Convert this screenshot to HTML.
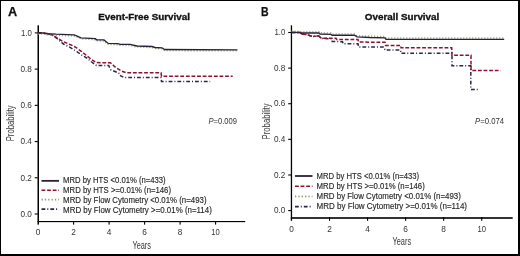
<!DOCTYPE html>
<html><head><meta charset="utf-8"><style>
html,body{margin:0;padding:0;background:#fff;overflow:hidden;width:520px;height:256px;}
svg{display:block;will-change:transform;}
text{font-family:"Liberation Sans", sans-serif;}
</style></head><body>
<svg width="520" height="256" viewBox="0 0 520 256" font-family='"Liberation Sans", sans-serif'>
<rect x="0" y="0" width="520" height="256" fill="#fff"/>
<rect x="0" y="0" width="520" height="1" fill="#000"/>
<rect x="0" y="0" width="1" height="256" fill="#000"/>
<rect x="518" y="0" width="2" height="256" fill="#000"/>
<rect x="0" y="254" width="520" height="2" fill="#000"/>
<text x="7.9" y="16.0" font-size="12" fill="#111" textLength="9.2" lengthAdjust="spacingAndGlyphs" font-weight="bold" stroke="#111" stroke-width="0.25">A</text>
<text x="98.3" y="20.3" font-size="9.9" fill="#111" textLength="91.6" lengthAdjust="spacingAndGlyphs" font-weight="bold" stroke="#111" stroke-width="0.35">Event-Free Survival</text>
<rect x="37.5" y="25.3" width="1.5" height="199.30" fill="#000"/>
<rect x="37.5" y="221.0" width="207.70" height="1.15" fill="#000"/>
<rect x="34.800000000000004" y="32.35" width="3" height="1.1" fill="#000"/>
<text x="31.90" y="35.65" font-size="8.5" fill="#333" text-anchor="end" textLength="10.9" lengthAdjust="spacingAndGlyphs">1.0</text>
<rect x="34.800000000000004" y="68.57" width="3" height="1.1" fill="#000"/>
<text x="31.90" y="71.87" font-size="8.5" fill="#333" text-anchor="end" textLength="11.4" lengthAdjust="spacingAndGlyphs">0.8</text>
<rect x="34.800000000000004" y="104.79" width="3" height="1.1" fill="#000"/>
<text x="31.90" y="108.09" font-size="8.5" fill="#333" text-anchor="end" textLength="11.4" lengthAdjust="spacingAndGlyphs">0.6</text>
<rect x="34.800000000000004" y="141.01" width="3" height="1.1" fill="#000"/>
<text x="31.90" y="144.31" font-size="8.5" fill="#333" text-anchor="end" textLength="11.4" lengthAdjust="spacingAndGlyphs">0.4</text>
<rect x="34.800000000000004" y="177.23" width="3" height="1.1" fill="#000"/>
<text x="31.90" y="180.53" font-size="8.5" fill="#333" text-anchor="end" textLength="11.4" lengthAdjust="spacingAndGlyphs">0.2</text>
<rect x="34.800000000000004" y="213.45" width="3" height="1.1" fill="#000"/>
<text x="31.90" y="216.75" font-size="8.5" fill="#333" text-anchor="end" textLength="11.4" lengthAdjust="spacingAndGlyphs">0.0</text>
<text x="38.10" y="235.30" font-size="8.3" fill="#333" text-anchor="middle">0</text>
<rect x="73.05" y="221.0" width="1.1" height="3.6" fill="#000"/>
<text x="73.60" y="235.30" font-size="8.3" fill="#333" text-anchor="middle">2</text>
<rect x="108.55" y="221.0" width="1.1" height="3.6" fill="#000"/>
<text x="109.10" y="235.30" font-size="8.3" fill="#333" text-anchor="middle">4</text>
<rect x="144.05" y="221.0" width="1.1" height="3.6" fill="#000"/>
<text x="144.60" y="235.30" font-size="8.3" fill="#333" text-anchor="middle">6</text>
<rect x="179.55" y="221.0" width="1.1" height="3.6" fill="#000"/>
<text x="180.10" y="235.30" font-size="8.3" fill="#333" text-anchor="middle">8</text>
<rect x="215.05" y="221.0" width="1.1" height="3.6" fill="#000"/>
<text x="215.60" y="235.30" font-size="8.3" fill="#333" text-anchor="middle" textLength="8.5" lengthAdjust="spacingAndGlyphs">10</text>
<text x="132.4" y="248.50" font-size="10.5" fill="#333" textLength="18.6" lengthAdjust="spacingAndGlyphs">Years</text>
<text transform="translate(14.4,123.3) rotate(-90)" x="0" y="0" font-size="10.3" fill="#3a3a3a" text-anchor="middle" textLength="36" lengthAdjust="spacingAndGlyphs">Probability</text>
<text x="208.5" y="124" font-size="8.3" fill="#333" textLength="28.5" lengthAdjust="spacingAndGlyphs"><tspan font-style="italic">P</tspan>=0.009</text>
<path d="M38,32.8 L47,33.5 L53,35.5 L57.6,39 L63.4,44 L70.5,47.6 L75.2,50.5 L81,54.6 L86.9,58.1 L91.7,62 L96.4,65.5 L108.7,65.5 L110.5,69.6 L118.7,73 L119.4,75.2 L124,77.4 L161,77.4 L161.5,81.5 L210.2,81.5" fill="none" stroke="#262844" stroke-width="1.5" stroke-dasharray="3.8 2 1 2"/>
<path d="M38,32.8 L47,33.5 L53,35.3 L57.6,38.2 L63.4,41.7 L70.5,44.7 L75.2,47 L81,51.1 L86.9,55.8 L91.7,59.7 L96.4,62.6 L110.5,62.8 L115,67 L121.7,71.1 L126.4,72.7 L161,72.7 L161.5,76.2 L232.7,76.2" fill="none" stroke="#8a1230" stroke-width="1.5" stroke-dasharray="3.8 1.8"/>
<path d="M38,33.9 L44,34.1 L46,34.7 L56,35.300000000000004 L74,35.9 L76,36.7 L81,38.9 L95.5,39.800000000000004 L96.5,40.9 L104,41.0 L108.2,44.5 L118,44.800000000000004 L120,45.4 L130,45.5 L137,47.1 L152,47.6 L155,48.6 L162,48.9 L164.5,50.6 L237.5,50.9" fill="none" stroke="#9aaa78" stroke-width="1.4" stroke-dasharray="1.2 1.8"/>
<path d="M38,32.8 L44,33 L46,33.6 L56,34.2 L74,34.8 L76,35.6 L81,37.8 L95.5,38.7 L96.5,39.8 L104,39.9 L108.2,43.4 L118,43.7 L120,44.3 L130,44.4 L137,46 L152,46.5 L155,47.5 L162,47.8 L164.5,49.5 L237.5,49.8" fill="none" stroke="#2a2038" stroke-width="1.35" stroke-dasharray="none"/>
<line x1="41.5" y1="180.85" x2="59.0" y2="180.85" stroke="#2a2038" stroke-width="1.8" stroke-dasharray="none"/>
<text x="63.1" y="183.30" font-size="8.5" fill="#222" textLength="102.6" lengthAdjust="spacingAndGlyphs" stroke="#333" stroke-width="0.15">MRD by HTS &lt;0.01% (n=433)</text>
<line x1="41.5" y1="190.30" x2="59.0" y2="190.30" stroke="#8a1230" stroke-width="1.6" stroke-dasharray="3.8 1.8"/>
<text x="63.1" y="193.33" font-size="8.5" fill="#222" textLength="107.9" lengthAdjust="spacingAndGlyphs" stroke="#333" stroke-width="0.15">MRD by HTS &gt;=0.01% (n=146)</text>
<line x1="41.5" y1="199.65" x2="59.0" y2="199.65" stroke="#8a9c6c" stroke-width="1.6" stroke-dasharray="1.3 2.05"/>
<text x="63.1" y="203.36" font-size="8.5" fill="#222" textLength="143.4" lengthAdjust="spacingAndGlyphs" stroke="#333" stroke-width="0.15">MRD by Flow Cytometry &lt;0.01% (n=493)</text>
<line x1="41.5" y1="209.10" x2="59.0" y2="209.10" stroke="#262844" stroke-width="1.6" stroke-dasharray="3.8 2 1 2"/>
<text x="63.1" y="213.39" font-size="8.5" fill="#222" textLength="148.7" lengthAdjust="spacingAndGlyphs" stroke="#333" stroke-width="0.15">MRD by Flow Cytometry &gt;=0.01% (n=114)</text>
<text x="261.0" y="16.0" font-size="12" fill="#111" textLength="7.6" lengthAdjust="spacingAndGlyphs" font-weight="bold" stroke="#111" stroke-width="0.25">B</text>
<text x="364.8" y="20.3" font-size="9.9" fill="#111" textLength="74.5" lengthAdjust="spacingAndGlyphs" font-weight="bold" stroke="#111" stroke-width="0.35">Overall Survival</text>
<rect x="290.8" y="25.3" width="1.3" height="195.50" fill="#000"/>
<rect x="290.8" y="217.2" width="221.90" height="1.6" fill="#000"/>
<rect x="288.2" y="31.95" width="3" height="1.1" fill="#000"/>
<text x="285.30" y="35.25" font-size="8.5" fill="#333" text-anchor="end" textLength="10.9" lengthAdjust="spacingAndGlyphs">1.0</text>
<rect x="288.2" y="67.57" width="3" height="1.1" fill="#000"/>
<text x="285.30" y="70.87" font-size="8.5" fill="#333" text-anchor="end" textLength="11.4" lengthAdjust="spacingAndGlyphs">0.8</text>
<rect x="288.2" y="103.19" width="3" height="1.1" fill="#000"/>
<text x="285.30" y="106.49" font-size="8.5" fill="#333" text-anchor="end" textLength="11.4" lengthAdjust="spacingAndGlyphs">0.6</text>
<rect x="288.2" y="138.81" width="3" height="1.1" fill="#000"/>
<text x="285.30" y="142.11" font-size="8.5" fill="#333" text-anchor="end" textLength="11.4" lengthAdjust="spacingAndGlyphs">0.4</text>
<rect x="288.2" y="174.43" width="3" height="1.1" fill="#000"/>
<text x="285.30" y="177.73" font-size="8.5" fill="#333" text-anchor="end" textLength="11.4" lengthAdjust="spacingAndGlyphs">0.2</text>
<rect x="288.2" y="210.05" width="3" height="1.1" fill="#000"/>
<text x="285.30" y="213.35" font-size="8.5" fill="#333" text-anchor="end" textLength="11.4" lengthAdjust="spacingAndGlyphs">0.0</text>
<text x="291.50" y="231.80" font-size="8.3" fill="#333" text-anchor="middle">0</text>
<rect x="328.99" y="217.2" width="1.1" height="3.6" fill="#000"/>
<text x="329.54" y="231.80" font-size="8.3" fill="#333" text-anchor="middle">2</text>
<rect x="367.03" y="217.2" width="1.1" height="3.6" fill="#000"/>
<text x="367.58" y="231.80" font-size="8.3" fill="#333" text-anchor="middle">4</text>
<rect x="405.07" y="217.2" width="1.1" height="3.6" fill="#000"/>
<text x="405.62" y="231.80" font-size="8.3" fill="#333" text-anchor="middle">6</text>
<rect x="443.11" y="217.2" width="1.1" height="3.6" fill="#000"/>
<text x="443.66" y="231.80" font-size="8.3" fill="#333" text-anchor="middle">8</text>
<rect x="481.15" y="217.2" width="1.1" height="3.6" fill="#000"/>
<text x="481.70" y="231.80" font-size="8.3" fill="#333" text-anchor="middle" textLength="8.5" lengthAdjust="spacingAndGlyphs">10</text>
<text x="392.5" y="245.00" font-size="10.5" fill="#333" textLength="18.6" lengthAdjust="spacingAndGlyphs">Years</text>
<text transform="translate(269.9,121.4) rotate(-90)" x="0" y="0" font-size="10.3" fill="#3a3a3a" text-anchor="middle" textLength="36" lengthAdjust="spacingAndGlyphs">Probability</text>
<text x="475.1" y="124" font-size="8.3" fill="#333" textLength="28.9" lengthAdjust="spacingAndGlyphs"><tspan font-style="italic">P</tspan>=0.074</text>
<path d="M291.5,32.4 L300,32.5 L302.3,34.2 L306.9,34.5 L310,35.7 L313,36.5 L316.2,36.1 L318.5,35.7 L320.8,37.9 L322.3,38.5 L331.5,38.7 L332.2,41.4 L342.5,41.7 L343.2,43.8 L358,43.8 L358.6,47.1 L384,47.1 L385,50 L400.5,50 L401,53.3 L452,53.3 L452,65.8 L470.8,65.8 L470.8,89.4 L478.8,89.4" fill="none" stroke="#262844" stroke-width="1.5" stroke-dasharray="3.8 2 1 2"/>
<path d="M291.5,32.4 L300,32.5 L302.3,34.2 L306.9,34.5 L310,35.7 L313,36.5 L316.2,36.1 L318.5,35.7 L320.8,37.8 L322.3,38.3 L336,38.3 L336.5,39.5 L358,39.5 L358.5,41.9 L370,42.2 L385,42.3 L385.5,45.4 L400.8,45.4 L401,47.7 L451.7,47.7 L452,55.2 L471,55.2 L471,70.6 L500.6,70.6" fill="none" stroke="#8a1230" stroke-width="1.5" stroke-dasharray="3.8 1.8"/>
<path d="M291.5,31.099999999999998 L300,31.2 L300.5,31.7 L319,31.7 L320,32.7 L331,33.0 L332,33.900000000000006 L354.6,33.900000000000006 L357,35.6 L370,36.2 L385,36.5 L386,38.0 L504.2,38.0" fill="none" stroke="#9aaa78" stroke-width="1.4" stroke-dasharray="1.2 1.8"/>
<path d="M291.5,32.4 L300,32.5 L300.5,33 L319,33 L320,34 L331,34.3 L332,35.2 L354.6,35.2 L357,36.9 L370,37.5 L385,37.8 L386,39.3 L504.2,39.3" fill="none" stroke="#2a2038" stroke-width="1.35" stroke-dasharray="none"/>
<line x1="295" y1="176.00" x2="312.5" y2="176.00" stroke="#2a2038" stroke-width="1.8" stroke-dasharray="none"/>
<text x="316.6" y="178.50" font-size="8.5" fill="#222" textLength="102.6" lengthAdjust="spacingAndGlyphs" stroke="#333" stroke-width="0.15">MRD by HTS &lt;0.01% (n=433)</text>
<line x1="295" y1="186.20" x2="312.5" y2="186.20" stroke="#8a1230" stroke-width="1.6" stroke-dasharray="3.8 1.8"/>
<text x="316.6" y="188.70" font-size="8.5" fill="#222" textLength="108.2" lengthAdjust="spacingAndGlyphs" stroke="#333" stroke-width="0.15">MRD by HTS &gt;=0.01% (n=146)</text>
<line x1="295" y1="196.40" x2="312.5" y2="196.40" stroke="#8a9c6c" stroke-width="1.6" stroke-dasharray="1.3 2.05"/>
<text x="316.6" y="198.90" font-size="8.5" fill="#222" textLength="144.2" lengthAdjust="spacingAndGlyphs" stroke="#333" stroke-width="0.15">MRD by Flow Cytometry &lt;0.01% (n=493)</text>
<line x1="295" y1="206.60" x2="312.5" y2="206.60" stroke="#262844" stroke-width="1.6" stroke-dasharray="3.8 2 1 2"/>
<text x="316.6" y="209.10" font-size="8.5" fill="#222" textLength="150.4" lengthAdjust="spacingAndGlyphs" stroke="#333" stroke-width="0.15">MRD by Flow Cytometry &gt;=0.01% (n=114)</text>
</svg>
</body></html>
